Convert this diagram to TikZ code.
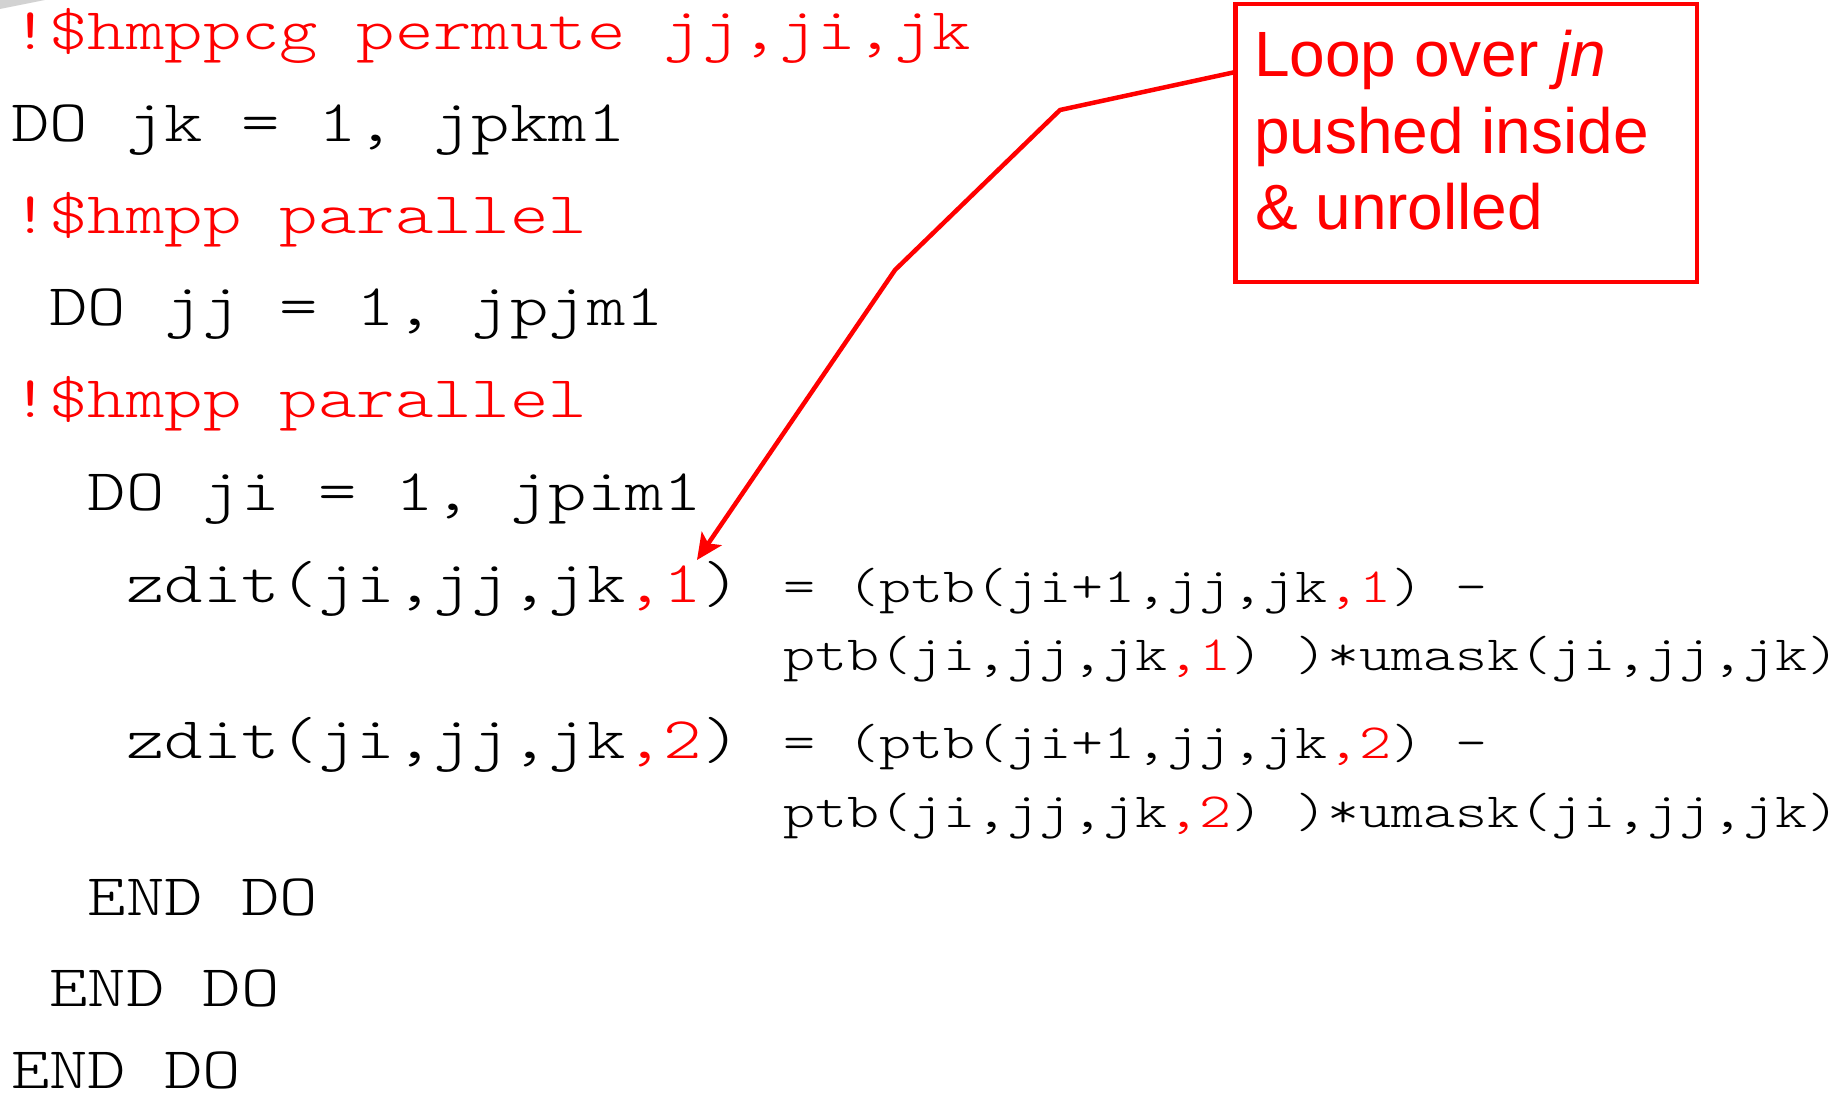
\documentclass[tikz,border=0pt]{standalone}
\usepackage{fontspec}
\setmainfont{Liberation Sans}
\setsansfont{Liberation Sans}
\setmonofont{Liberation Mono}
\newfontfamily\courlike{lmmonolt10-regular.otf}[FakeStretch=1.24]
\usetikzlibrary{arrows.meta}
\definecolor{pptred}{RGB}{255,0,0}
\tikzset{
  bigcode/.style={anchor=base west, inner sep=0pt, outer sep=0pt, text=black,
    font=\courlike\fontsize{29.5pt}{36pt}\selectfont},
  smallcode/.style={anchor=base west, inner sep=0pt, outer sep=0pt, text=black,
    font=\courlike\fontsize{24.6pt}{30pt}\selectfont},
  directive/.style={text=pptred},
  callouttext/.style={anchor=base west, inner sep=0pt, outer sep=0pt, text=pptred,
    font=\sffamily\fontsize{32pt}{38pt}\selectfont},
  calloutbox/.style={draw=pptred, line width=2.25pt, minimum width=230.75pt,
    minimum height=139pt, inner sep=0pt, fill=white},
  pointer/.style={draw=pptred, line width=2.25pt, line join=round,
    -{Stealth[length=13pt, width=12pt, inset=3pt]}}
}
\newcommand{\rd}[1]{\textcolor{pptred}{#1}}
\begin{document}
\begin{tikzpicture}[x=0.5pt, y=-0.5pt]
\useasboundingbox (0,0) rectangle (1847,1101);
\fill[white] (0,0) rectangle (1847,1101);
\fill[gray!35] (0,0) -- (45,0) -- (0,9) -- cycle;

% code lines
\node[bigcode, directive] (l0) at (11,50) {!\$hmppcg permute jj,ji,jk};
\node[bigcode] (l1) at (11,142) {DO jk = 1, jpkm1};
\node[bigcode, directive] (l2) at (11,234) {!\$hmpp parallel};
\node[bigcode] (l3) at (49.4,326) {DO jj = 1, jpjm1};
\node[bigcode, directive] (l4) at (11,418) {!\$hmpp parallel};
\node[bigcode] (l5) at (87.8,510) {DO ji = 1, jpim1};
\node[bigcode] (l6) at (126.2,602) {zdit(ji,jj,jk\rd{,1})};
\node[smallcode] (r6) at (783,602) {= (ptb(ji+1,jj,jk\rd{,1}) -};
\node[smallcode] (c6) at (783,670) {ptb(ji,jj,jk\rd{,1}) )*umask(ji,jj,jk)};
\node[bigcode] (l7) at (126.2,758) {zdit(ji,jj,jk\rd{,2})};
\node[smallcode] (r7) at (783,758) {= (ptb(ji+1,jj,jk\rd{,2}) -};
\node[smallcode] (c7) at (783,827) {ptb(ji,jj,jk\rd{,2}) )*umask(ji,jj,jk)};
\node[bigcode] (l8) at (87.8,915) {END DO};
\node[bigcode] (l9) at (49.4,1006) {END DO};
\node[bigcode] (l10) at (11,1088) {END DO};

% callout
\node[calloutbox] (box) at (1466.25,143) {};
\node[callouttext] (t1) at (1254,77) {Loop over \textit{jn}};
\node[callouttext] (t2) at (1254,154) {pushed inside};
\node[callouttext] (t3) at (1255,230) {\& unrolled};

\coordinate (start) at (1235.5,72);
\coordinate (bendA) at (1060,110);
\coordinate (bendB) at (895,270);
\coordinate (tip) at (697,560);
\draw[pointer] (start) -- (bendA) -- (bendB) -- (tip);
\end{tikzpicture}
\end{document}
